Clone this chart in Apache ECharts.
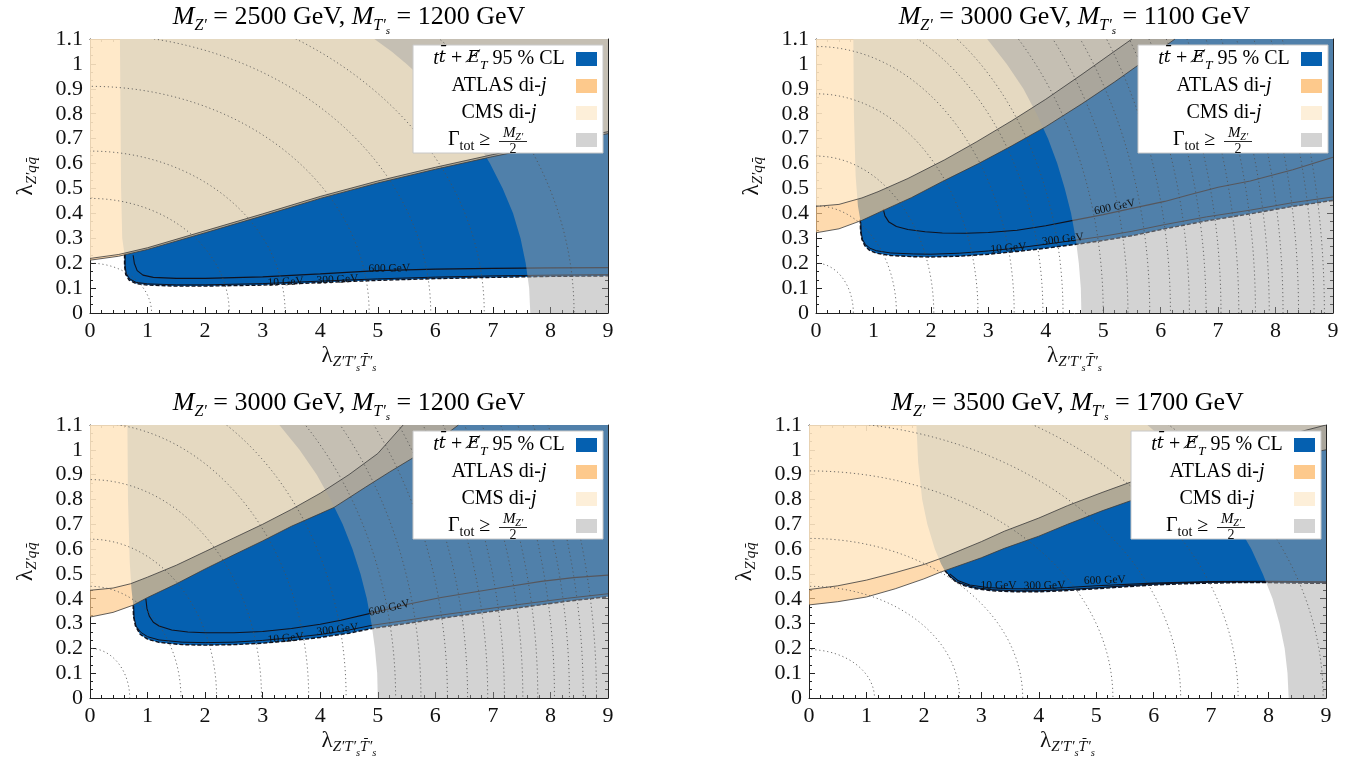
<!DOCTYPE html>
<html><head><meta charset="utf-8">
<script src="https://cdn.jsdelivr.net/npm/echarts@6/dist/echarts.min.js"></script>
<style>html,body{margin:0;padding:0;background:#fff}#c{width:1361px;height:760px}</style>
</head><body><div id="c"></div>
<script>
// ---------------- data ----------------
const MZ_MASS = [2500, 3000, 3000, 3500];
const MT_MASS = [1200, 1100, 1200, 1700];
const X_TICKS = [0, 1, 2, 3, 4, 5, 6, 7, 8, 9];
const Y_TICKS = [0, 0.1, 0.2, 0.3, 0.4, 0.5, 0.6, 0.7, 0.8, 0.9, 1, 1.1];

// Panel 1 : MZ'=2500, MT=1200
const P1_BLUE_LOW = [[0.6,0.235],[0.6,0.19],[0.62,0.155],[0.68,0.132],[0.8,0.118],[1.0,0.112],[1.5,0.108],[2.0,0.108],[3.0,0.112],[4.0,0.122],[5.0,0.131],[6.0,0.138],[7.0,0.143],[8.0,0.147],[9.0,0.149]];
const P1_EDGE = [[0.52,1.1],[0.53,0.8],[0.54,0.5],[0.56,0.3],[0.6,0.235]];
const P1_ATLAS = [[0,0.212],[0.5,0.228],[1,0.255],[2,0.322],[3,0.39],[4,0.46],[5,0.522],[6,0.577],[7,0.628],[8,0.675],[9,0.72]];
const P1_CMS = [[0,0.219],[0.5,0.235],[1,0.262],[2,0.33],[3,0.398],[4,0.468],[5,0.53],[6,0.585],[7,0.636],[8,0.683],[9,0.728]];
const P1_GAMMA = [[7.65,0],[7.63,0.1],[7.57,0.2],[7.48,0.3],[7.35,0.4],[7.17,0.5],[6.95,0.6],[6.69,0.7],[6.36,0.8],[5.97,0.9],[5.5,1.0],[5.24,1.05],[4.94,1.1]];
const P1_C600 = [[0.75,0.232],[0.77,0.2],[0.82,0.17],[0.92,0.152],[1.1,0.143],[1.5,0.139],[2,0.139],[3,0.145],[4,0.157],[5,0.17],[6,0.176],[7,0.179],[8,0.181],[9,0.182]];
const P1_C300 = [[0.61,0.235],[0.61,0.19],[0.63,0.158],[0.69,0.137],[0.8,0.123],[1.0,0.117],[1.5,0.113],[2,0.113],[3,0.118],[4,0.128],[5,0.137],[6,0.144],[7,0.149],[8,0.152],[9,0.154]];
const P1_ARCS = [[1.07,0.2],[2.42,0.46],[3.39,0.65],[4.85,0.91],[5.92,1.12],[6.85,1.29],[8.41,1.59]];
const P1_LABELS = [["10 GeV",3.4,0.124,3],["300 GeV",4.3,0.134,3],["600 GeV",5.2,0.178,1]];

// Panel 2 : MZ'=3000, MT=1100
const P2_BLUE_LOW = [[0.77,0.375],[0.775,0.33],[0.8,0.295],[0.85,0.27],[0.93,0.252],[1.05,0.24],[1.3,0.231],[1.7,0.226],[2.0,0.225],[2.5,0.228],[3.0,0.236],[3.5,0.247],[4.0,0.26],[4.6,0.278],[5.0,0.291],[5.5,0.31],[6.07,0.338],[6.8,0.37],[7.56,0.398],[8.3,0.428],[9.0,0.452]];
const P2_EDGE = [[0.65,1.1],[0.66,0.8],[0.69,0.55],[0.73,0.43],[0.77,0.375]];
const P2_ATLAS = [[0,0.322],[0.4,0.338],[0.8,0.372],[1.2,0.415],[1.66,0.463],[2.2,0.528],[2.83,0.6],[3.4,0.67],[4.0,0.748],[4.63,0.84],[5.2,0.928],[5.7,1.01],[6.25,1.1]];
const P2_CMS = [[0,0.428],[0.4,0.436],[0.8,0.462],[1.08,0.487],[1.6,0.54],[2.24,0.615],[2.8,0.688],[3.41,0.772],[4.0,0.858],[4.63,0.958],[5.1,1.035],[5.5,1.1]];
const P2_GAMMA = [[4.62,0],[4.61,0.1],[4.575,0.2],[4.52,0.3],[4.44,0.4],[4.33,0.5],[4.2,0.6],[4.04,0.7],[3.84,0.8],[3.61,0.9],[3.32,1.0],[2.98,1.1]];
const P2_C600 = [[1.17,0.418],[1.2,0.39],[1.27,0.365],[1.4,0.347],[1.6,0.335],[1.9,0.326],[2.2,0.321],[2.6,0.32],[3.0,0.323],[3.5,0.332],[4.0,0.35],[4.5,0.373],[5.0,0.395],[5.5,0.42],[6.07,0.448],[6.5,0.475],[7.0,0.505],[7.56,0.53],[8.3,0.575],[9,0.625]];
const P2_C300 = [[0.78,0.365],[0.785,0.325],[0.81,0.295],[0.86,0.275],[0.94,0.26],[1.05,0.25],[1.3,0.241],[1.7,0.237],[2.0,0.236],[2.5,0.24],[3.0,0.249],[3.5,0.261],[4.0,0.276],[4.6,0.295],[5.0,0.308],[5.5,0.328],[6.07,0.355],[6.8,0.386],[7.56,0.413],[8.3,0.443],[9,0.466]];
const P2_ARCS = [[0.65,0.2],[1.4,0.43],[2.05,0.63],[2.82,0.88],[3.45,1.07],[3.95,1.23],[4.3,1.34],[5.0,1.55],[5.43,1.69],[5.81,1.8],[6.17,1.92],[6.5,2.02],[6.79,2.11],[7.05,2.19],[7.36,2.29],[7.65,2.38],[7.89,2.45],[8.13,2.52],[8.4,2.61],[8.67,2.69],[8.85,2.75]];
const P2_LABELS = [["10 GeV",3.35,0.26,5],["300 GeV",4.3,0.295,7],["600 GeV",5.2,0.425,12]];

// Panel 3 : MZ'=3000, MT=1200
const P3_BLUE_LOW = [[0.75,0.375],[0.755,0.33],[0.79,0.29],[0.87,0.257],[1.0,0.237],[1.2,0.224],[1.6,0.215],[2.0,0.213],[2.5,0.215],[3.0,0.221],[3.5,0.231],[4.0,0.244],[4.5,0.261],[4.9,0.28],[5.5,0.3],[6.0,0.318],[6.7,0.34],[7.5,0.365],[8.3,0.39],[9.0,0.408]];
const P3_EDGE = [[0.65,1.1],[0.66,0.8],[0.69,0.55],[0.72,0.44],[0.75,0.375]];
const P3_ATLAS = [[0,0.326],[0.4,0.345],[0.75,0.374],[1.0,0.405],[1.5,0.46],[2.0,0.52],[2.5,0.577],[3.0,0.633],[3.5,0.692],[4.0,0.743],[4.24,0.768],[4.79,0.85],[5.2,0.91],[5.6,0.966],[6.0,1.03],[6.4,1.1]];
const P3_CMS = [[0,0.434],[0.4,0.443],[0.7,0.46],[1.0,0.487],[1.5,0.535],[2.0,0.59],[2.5,0.645],[3.0,0.7],[3.5,0.76],[4.0,0.825],[4.5,0.9],[5.0,0.985],[5.44,1.1]];
const P3_GAMMA = [[5.0,0],[4.99,0.1],[4.95,0.2],[4.89,0.3],[4.81,0.4],[4.7,0.5],[4.56,0.6],[4.39,0.7],[4.18,0.8],[3.94,0.9],[3.64,1.0],[3.29,1.1]];
const P3_C600 = [[0.97,0.4],[0.99,0.36],[1.03,0.33],[1.1,0.305],[1.2,0.29],[1.42,0.274],[1.7,0.266],[2.0,0.263],[2.5,0.263],[3.0,0.268],[3.5,0.28],[4.0,0.297],[4.36,0.313],[5.0,0.348],[5.52,0.378],[6.1,0.405],[6.68,0.427],[7.3,0.45],[7.84,0.47],[8.4,0.485],[9,0.495]];
const P3_C300 = [[0.76,0.37],[0.765,0.325],[0.8,0.29],[0.88,0.265],[1.0,0.247],[1.2,0.234],[1.6,0.225],[2.0,0.223],[2.5,0.225],[3.0,0.232],[3.5,0.243],[4.0,0.256],[4.5,0.274],[4.9,0.293],[5.5,0.313],[6.0,0.331],[6.7,0.353],[7.5,0.378],[8.3,0.402],[9,0.42]];
const P3_ARCS = [[0.69,0.2],[1.58,0.45],[2.2,0.64],[2.98,0.88],[3.8,1.11],[4.45,1.3],[5.31,1.55],[5.75,1.68],[6.21,1.81],[6.56,1.91],[6.91,2.01],[7.2,2.1],[7.52,2.19],[7.78,2.27],[8.07,2.35],[8.33,2.43],[8.57,2.5],[8.8,2.57]];
const P3_LABELS = [["10 GeV",3.4,0.24,5],["300 GeV",4.3,0.275,7],["600 GeV",5.2,0.362,13]];

// Panel 4 : MZ'=3500, MT=1700
const P4_BLUE_LOW = [[2.36,0.515],[2.45,0.49],[2.55,0.47],[2.7,0.453],[2.9,0.44],[3.2,0.432],[3.6,0.428],[4.0,0.428],[4.5,0.433],[5.0,0.44],[5.5,0.448],[6.0,0.455],[6.5,0.46],[7.0,0.463],[7.5,0.465],[8.0,0.465],[8.5,0.463],[9.0,0.462]];
const P4_EDGE = [[1.87,1.1],[1.9,0.95],[1.97,0.8],[2.06,0.7],[2.19,0.6],[2.3,0.54],[2.36,0.515]];
const P4_ATLAS = [[0,0.375],[0.5,0.388],[1,0.407],[1.5,0.44],[2,0.48],[2.3,0.508],[3,0.565],[3.4,0.603],[4,0.652],[4.5,0.7],[5.1,0.754],[5.6,0.795],[6.3,0.85],[7,0.9],[8,0.955],[9,1.0]];
const P4_CMS = [[0,0.437],[0.5,0.452],[1,0.475],[1.5,0.505],[2,0.538],[2.3,0.563],[3,0.63],[3.4,0.672],[4,0.725],[4.5,0.775],[5.1,0.828],[5.6,0.87],[6.3,0.925],[7,0.975],[8,1.04],[9,1.1]];
const P4_GAMMA = [[8.35,0],[8.33,0.1],[8.28,0.2],[8.19,0.3],[8.07,0.4],[7.9,0.5],[7.7,0.6],[7.45,0.7],[7.16,0.8],[6.8,0.9],[6.39,1.0],[5.89,1.1]];
const P4_C600 = [[2.45,0.5],[2.6,0.472],[2.8,0.455],[3.1,0.445],[3.5,0.44],[4.0,0.44],[4.5,0.445],[5.0,0.452],[6.0,0.463],[7.0,0.469],[8.0,0.47],[9,0.468]];
const P4_C300 = [[2.38,0.51],[2.47,0.487],[2.57,0.468],[2.72,0.456],[2.92,0.444],[3.2,0.436],[3.6,0.432],[4.0,0.432],[4.5,0.437],[5.0,0.444],[5.5,0.452],[6.0,0.459],[6.5,0.464],[7.0,0.467],[7.5,0.469],[8.0,0.469],[8.5,0.467],[9.0,0.466]];
const P4_ARCS = [[1.14,0.195],[2.62,0.45],[3.72,0.643],[5.29,0.915],[6.47,1.115],[7.47,1.29],[8.95,1.54]];
const P4_LABELS = [["10 GeV",3.3,0.452,0],["300 GeV",4.1,0.452,1],["600 GeV",5.15,0.474,2]];

// ---------------- style / layout ----------------
const SERIF = "'Liberation Serif', 'Times New Roman', serif";
const DJ = "'DejaVu Serif', serif";
const BLUE = '#0560b0';
const ATLAS_FILL = 'rgba(253,201,138,0.69)';
const CMS_FILL = 'rgba(255,240,215,0.67)';
const GAMMA_FILL = 'rgba(163,163,163,0.48)';
const SWATCH = [BLUE, '#fdc98c', '#fdefd9', '#d3d3d3'];
const GRIDS = [
  {left: 90, top: 39, width: 518, height: 274},
  {left: 816, top: 39, width: 517, height: 274},
  {left: 90, top: 425, width: 518, height: 273},
  {left: 809, top: 425, width: 517, height: 273}
];

const PANELS = [
  {low:P1_BLUE_LOW, edge:P1_EDGE, atlas:P1_ATLAS, cms:P1_CMS, gamma:P1_GAMMA, c600:P1_C600, c300:P1_C300, arcs:P1_ARCS, labels:P1_LABELS},
  {low:P2_BLUE_LOW, edge:P2_EDGE, atlas:P2_ATLAS, cms:P2_CMS, gamma:P2_GAMMA, c600:P2_C600, c300:P2_C300, arcs:P2_ARCS, labels:P2_LABELS},
  {low:P3_BLUE_LOW, edge:P3_EDGE, atlas:P3_ATLAS, cms:P3_CMS, gamma:P3_GAMMA, c600:P3_C600, c300:P3_C300, arcs:P3_ARCS, labels:P3_LABELS},
  {low:P4_BLUE_LOW, edge:P4_EDGE, atlas:P4_ATLAS, cms:P4_CMS, gamma:P4_GAMMA, c600:P4_C600, c300:P4_C300, arcs:P4_ARCS, labels:P4_LABELS}
];

const XMIN = X_TICKS[0], XMAX = X_TICKS[X_TICKS.length-1];
const YMIN = Y_TICKS[0], YMAX = Y_TICKS[Y_TICKS.length-1];

const NAME_RICH = {
  l: {fontFamily: SERIF, fontSize: 23, lineHeight: 24, verticalAlign: 'top', color: '#111'},
  s: {fontFamily: SERIF, fontSize: 15, fontStyle: 'italic', lineHeight: 18, padding: [11,0,0,0], verticalAlign: 'top', color: '#111'},
  b: {fontFamily: DJ, fontSize: 13.5, fontStyle: 'italic', lineHeight: 18, padding: [11,0,0,0], verticalAlign: 'top', color: '#111'},
  ss: {fontFamily: SERIF, fontSize: 10.5, fontStyle: 'italic', lineHeight: 12, padding: [19,0,0,0], verticalAlign: 'top', color: '#111'}
};
const XNAME = '{l|λ}{s|Z′T′}{ss|s}{b|T̄}{s|′}{ss|s}';
const YNAME = '{l|λ}{s|Z′q}{b|q̄}';

function axisCommon(){
  return {
    axisLine: {show: true, onZero: false, lineStyle: {color: '#222', width: 1}},
    axisTick: {show: true, inside: true, length: 6, lineStyle: {color: '#222', width: 1}},
    splitLine: {show: false}, minorSplitLine: {show: false}
  };
}
const xAxes = [], yAxes = [];
GRIDS.forEach((g, p) => {
  [false, true].forEach(top => {
    xAxes.push(Object.assign(axisCommon(), {
      type: 'value', gridIndex: p, min: XMIN, max: XMAX, interval: 1, position: top ? 'top' : 'bottom',
      minorTick: {show: true, splitNumber: 5, length: 3, lineStyle: {color: '#222'}},
      axisLabel: {show: !top, color: '#111', fontFamily: SERIF, fontSize: 22, margin: 7},
      name: top ? '' : XNAME, nameLocation: 'middle', nameGap: 31,
      nameTextStyle: {rich: NAME_RICH}
    }));
    yAxes.push(Object.assign(axisCommon(), {
      type: 'value', gridIndex: p, min: YMIN, max: YMAX, interval: 0.1, position: top ? 'right' : 'left',
      minorTick: {show: true, splitNumber: 3, length: 3, lineStyle: {color: '#222'}},
      axisLabel: {show: !top, color: '#111', fontFamily: SERIF, fontSize: 22, margin: 7,
        formatter: v => String(Math.round(v * 10) / 10)},
      name: top ? '' : YNAME, nameLocation: 'middle', nameGap: 52, nameRotate: 90,
      nameTextStyle: {rich: NAME_RICH}
    }));
  });
});

function closeAbove(line){
  const last = line[line.length-1];
  if (last[1] >= YMAX) return line.concat([[XMIN, YMAX]]);
  return line.concat([[XMAX, YMAX], [XMIN, YMAX]]);
}
function polySeries(p, pts, fill, z){
  return {type: 'custom', xAxisIndex: 2*p, yAxisIndex: 2*p, z: z, silent: true, data: [[pts[0][0], pts[0][1]]],
    renderItem: (params, api) => ({type: 'polygon', shape: {points: pts.map(q => api.coord(q))}, style: {fill: fill}})};
}
function lineSeries(p, data, color, width, dash, z){
  return {type: 'line', xAxisIndex: 2*p, yAxisIndex: 2*p, z: z, silent: true, data: data, symbol: 'none', showSymbol: false,
    lineStyle: {color: color, width: width, type: dash || 'solid'}};
}

const series = [];
PANELS.forEach((P, p) => {
  series.push(polySeries(p, P.low.concat([[XMAX, YMAX]], P.edge), BLUE, 1));
  series.push(lineSeries(p, P.c600, '#10121e', 1.1, null, 2));
  series.push(lineSeries(p, P.c300, '#10121e', 1.0, null, 2));
  series.push(lineSeries(p, P.low, '#10121e', 1.4, [4, 2], 2));
  series.push(polySeries(p, closeAbove(P.atlas), ATLAS_FILL, 3));
  series.push(polySeries(p, closeAbove(P.cms), CMS_FILL, 3));
  series.push(polySeries(p, P.gamma.concat([[XMAX, YMAX], [XMAX, YMIN]]), GAMMA_FILL, 3));
  series.push(lineSeries(p, P.atlas, 'rgba(60,60,60,0.9)', 0.9, null, 4));
  series.push(lineSeries(p, P.cms, 'rgba(60,60,60,0.9)', 0.9, null, 4));
  series.push({type: 'custom', xAxisIndex: 2*p, yAxisIndex: 2*p, z: 5, silent: true, clip: true, data: P.arcs,
    renderItem: (params, api) => {
      const o = api.coord([0, 0]);
      const ax = api.coord([api.value(0), 0]);
      const by = api.coord([0, api.value(1)]);
      return {type: 'ellipse', shape: {cx: o[0], cy: o[1], rx: ax[0] - o[0], ry: o[1] - by[1]},
        style: {fill: 'none', stroke: 'rgba(80,80,80,0.8)', lineWidth: 1, lineDash: [1.2, 2.8]}};
    }});
  series.push({type: 'custom', xAxisIndex: 2*p, yAxisIndex: 2*p, z: 6, silent: true,
    data: P.labels.map(l => [l[1], l[2]]),
    renderItem: (params, api) => {
      const lab = P.labels[params.dataIndex];
      const pt = api.coord([api.value(0), api.value(1)]);
      return {type: 'text', x: pt[0], y: pt[1], rotation: lab[3] * Math.PI / 180,
        style: {text: lab[0], font: '11.5px ' + SERIF, fill: '#111', align: 'center', verticalAlign: 'middle'}};
    }});
});

// ---------------- titles & legends (graphic) ----------------
const TITLE_RICH = {
  m: {fontFamily: SERIF, fontSize: 26, fontStyle: 'italic', lineHeight: 26, verticalAlign: 'top', color: '#1a1a1a'},
  n: {fontFamily: SERIF, fontSize: 26, lineHeight: 26, verticalAlign: 'top', color: '#1a1a1a'},
  s: {fontFamily: SERIF, fontSize: 16, fontStyle: 'italic', lineHeight: 16, padding: [14,0,0,0], verticalAlign: 'top', color: '#1a1a1a'},
  ss: {fontFamily: SERIF, fontSize: 11, fontStyle: 'italic', lineHeight: 11, padding: [22,0,0,0], verticalAlign: 'top', color: '#1a1a1a'}
};
const LEG_RICH = {
  i: {fontFamily: SERIF, fontSize: 20, fontStyle: 'italic', lineHeight: 21, verticalAlign: 'top', color: '#111'},
  n: {fontFamily: SERIF, fontSize: 20, lineHeight: 21, verticalAlign: 'top', color: '#111'},
  e: {fontFamily: DJ, fontSize: 17.5, fontStyle: 'italic', lineHeight: 21, verticalAlign: 'top', color: '#111'},
  s: {fontFamily: SERIF, fontSize: 13.5, fontStyle: 'italic', lineHeight: 14, padding: [10,0,0,0], verticalAlign: 'top', color: '#111'},
  r: {fontFamily: SERIF, fontSize: 14, lineHeight: 14, padding: [10,0,0,0], verticalAlign: 'top', color: '#111'},
  fm: {fontFamily: SERIF, fontSize: 15, fontStyle: 'italic', lineHeight: 15, verticalAlign: 'top', color: '#111'},
  fs: {fontFamily: SERIF, fontSize: 10, fontStyle: 'italic', lineHeight: 10, padding: [7,0,0,0], verticalAlign: 'top', color: '#111'}
};
const graphics = [];
GRIDS.forEach((g, p) => {
  graphics.push({type: 'text', x: g.left + g.width / 2, y: g.top - 22, z: 100,
    style: {text: '{m|M}{s|Z′}{n| = ' + MZ_MASS[p] + ' GeV, }{m|M}{s|T′}{ss|s}{n| = ' + MT_MASS[p] + ' GeV}',
      rich: TITLE_RICH, align: 'center', verticalAlign: 'middle'}});
  const bw = 190, bh = 108;
  const bx = g.left + g.width - 5 - bw, by = g.top + 6;
  const rows = [14, 41, 68, 95].map(r => by + r);
  const cx = bx + 86;
  graphics.push({type: 'rect', z: 100, shape: {x: bx, y: by, width: bw, height: bh},
    style: {fill: '#fff', stroke: '#c8c8c8', lineWidth: 1}});
  const texts = [
    '{i|t}{e|t̄}{n| + }{e|E̸}{s|T}{n| 95 % CL}',
    '{n|ATLAS di-}{i|j}',
    '{n|CMS di-}{i|j}'
  ];
  texts.forEach((t, k) => graphics.push({type: 'text', z: 101, x: cx, y: rows[k],
    style: {text: t, rich: LEG_RICH, align: 'center', verticalAlign: 'middle'}}));
  graphics.push({type: 'text', z: 101, x: bx + 35, y: rows[3],
    style: {text: '{n|Γ}{r|tot}{n| ≥}', rich: LEG_RICH, align: 'left', verticalAlign: 'middle'}});
  const fx = bx + 86;
  graphics.push({type: 'text', z: 101, x: fx + 14, y: rows[3] - 7,
    style: {text: '{fm|M}{fs|Z′}', rich: LEG_RICH, align: 'center', verticalAlign: 'middle'}});
  graphics.push({type: 'line', z: 101, shape: {x1: fx, y1: rows[3] + 1.5, x2: fx + 28, y2: rows[3] + 1.5},
    style: {stroke: '#111', lineWidth: 0.9}});
  graphics.push({type: 'text', z: 101, x: fx + 14, y: rows[3] + 9,
    style: {text: '2', font: '14px ' + SERIF, fill: '#111', align: 'center', verticalAlign: 'middle'}});
  rows.forEach((r, k) => graphics.push({type: 'rect', z: 101,
    shape: {x: bx + bw - 27, y: r - 7, width: 21, height: 14}, style: {fill: SWATCH[k]}}));
});

const chart = echarts.init(document.getElementById('c'), null, {renderer: 'canvas'});
chart.setOption({
  animation: false,
  backgroundColor: '#fff',
  grid: GRIDS.map(g => Object.assign({containLabel: false}, g)),
  xAxis: xAxes,
  yAxis: yAxes,
  series: series,
  graphic: {elements: graphics}
});
</script>
</body></html>
